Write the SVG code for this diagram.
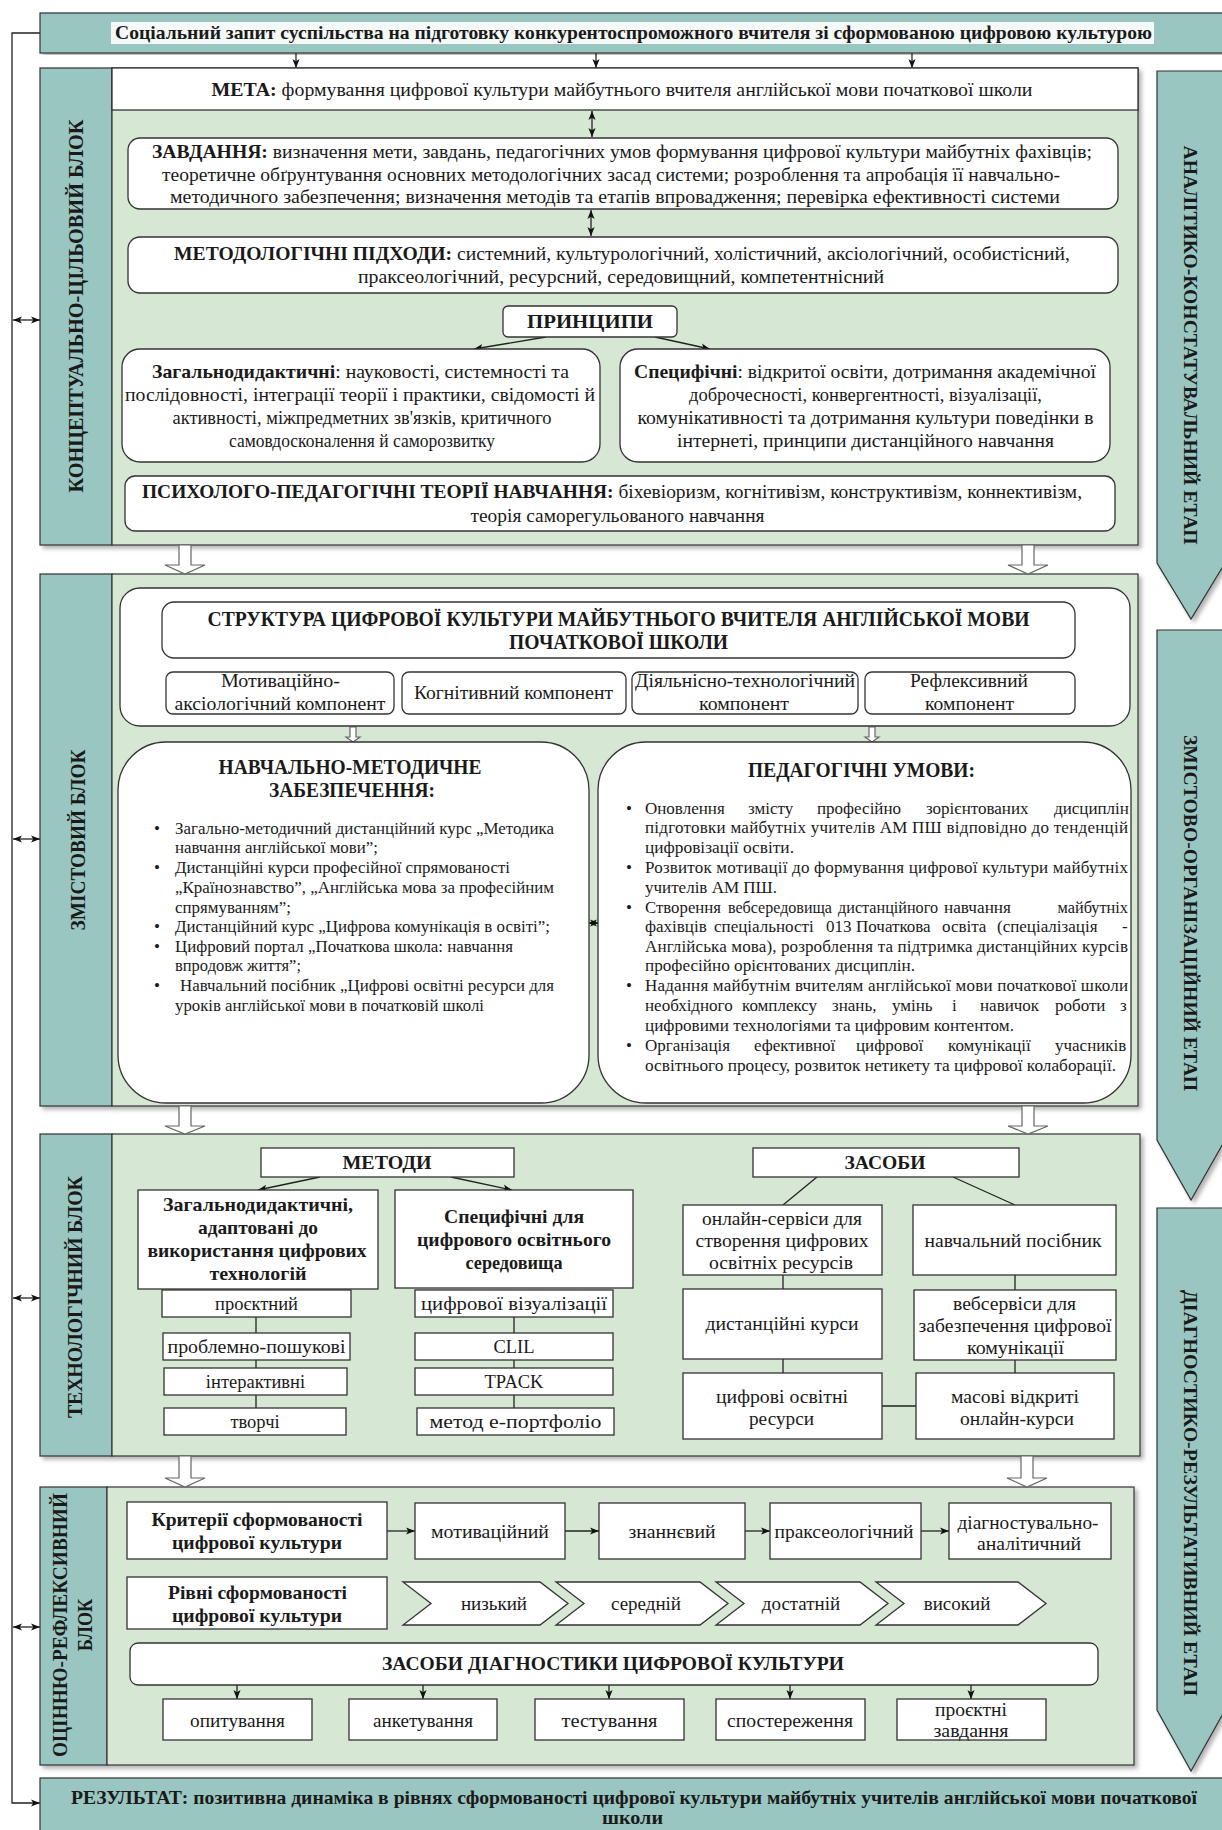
<svg xmlns="http://www.w3.org/2000/svg" width="1222" height="1830" viewBox="0 0 1222 1830">
<defs>
<style>
.t{font-family:"Liberation Serif","Times New Roman",serif;font-size:19px;fill:#1a1a1a}
.b{font-weight:bold}
.s{font-size:17px}
.m{font-size:18.5px}
.c{text-anchor:middle}
.teal{fill:#99c6c0;stroke:#333;stroke-width:1.2}
.green{fill:#d6e8d4;stroke:#333;stroke-width:1.2}
.box{fill:#fff;stroke:#333;stroke-width:1.3}
.ln{fill:none;stroke:#222;stroke-width:1.3}
.hol{fill:#fff;stroke:#666;stroke-width:1.2}
</style>
<marker id="a" viewBox="0 0 10 10" refX="10" refY="5" markerWidth="9" markerHeight="9" markerUnits="userSpaceOnUse" orient="auto-start-reverse"><path d="M0,1 L10,5 L0,9 L2.5,5 z" fill="#111"/></marker>
<filter id="sh" x="-3%" y="-3%" width="106%" height="106%"><feDropShadow dx="3" dy="3" stdDeviation="2" flood-color="#000" flood-opacity="0.3"/></filter>
</defs>
<rect width="1222" height="1830" fill="#fff"/>

<!-- stage arrows -->
<g id="etap1">
<polygon points="1157,71 1225,71 1225,563 1191,619 1157,563" class="teal" filter="url(#sh)"/>
<text transform="translate(1190,345) rotate(90)" class="t b c" dominant-baseline="central" textLength="399" lengthAdjust="spacingAndGlyphs">АНАЛІТИКО-КОНСТАТУВАЛЬНИЙ ЕТАП</text>
</g>
<g id="etap2">
<polygon points="1157,630 1225,630 1225,1140 1191,1200 1157,1140" class="teal" filter="url(#sh)"/>
<text transform="translate(1190,913) rotate(90)" class="t b c" dominant-baseline="central" textLength="356" lengthAdjust="spacingAndGlyphs">ЗМІСТОВО-ОРГАНІЗАЦІЙНИЙ ЕТАП</text>
</g>
<g id="etap3">
<polygon points="1157,1208 1225,1208 1225,1710 1191,1771 1157,1710" class="teal" filter="url(#sh)"/>
<text transform="translate(1190,1493) rotate(90)" class="t b c" dominant-baseline="central" textLength="406" lengthAdjust="spacingAndGlyphs">ДІАГНОСТИКО-РЕЗУЛЬТАТИВНИЙ ЕТАП</text>
</g>

<!-- block backgrounds -->
<g id="block1">
<g filter="url(#sh)">
<rect x="40" y="68" width="72" height="477" class="teal"/>
<rect x="112" y="68" width="1026" height="477" class="green"/>
</g>
<text transform="translate(76,306) rotate(-90)" class="t b c" style="font-size:20px" dominant-baseline="central" textLength="373" lengthAdjust="spacingAndGlyphs">КОНЦЕПТУАЛЬНО-ЦІЛЬОВИЙ БЛОК</text>
</g>
<g id="block2">
<g filter="url(#sh)">
<rect x="40" y="574" width="72" height="532" class="teal"/>
<rect x="112" y="574" width="1026" height="532" class="green"/>
</g>
<text transform="translate(78,840) rotate(-90)" class="t b c" style="font-size:20px" dominant-baseline="central" textLength="181" lengthAdjust="spacingAndGlyphs">ЗМІСТОВИЙ БЛОК</text>
</g>
<g id="block3">
<g filter="url(#sh)">
<rect x="40" y="1134" width="72" height="322" class="teal"/>
<rect x="112" y="1134" width="1028" height="322" class="green"/>
</g>
<text transform="translate(75,1297) rotate(-90)" class="t b c" style="font-size:20px" dominant-baseline="central" textLength="242" lengthAdjust="spacing">ТЕХНОЛОГІЧНИЙ БЛОК</text>
</g>
<g id="block4">
<g filter="url(#sh)">
<rect x="40" y="1487" width="67" height="278" class="teal"/>
<rect x="107" y="1487" width="1027" height="278" class="green"/>
</g>
<text transform="translate(60,1625) rotate(-90)" class="t b c" style="font-size:20px" dominant-baseline="central" textLength="264" lengthAdjust="spacingAndGlyphs">ОЦІННЮ-РЕФЛЕКСИВНИЙ</text>
<text transform="translate(85,1625) rotate(-90)" class="t b c" style="font-size:20px" dominant-baseline="central" textLength="52" lengthAdjust="spacingAndGlyphs">БЛОК</text>
</g>

<!-- connectors -->
<g id="connectors">
<line x1="296" y1="53" x2="296" y2="68" class="ln" marker-end="url(#a)"/>
<line x1="596" y1="53" x2="596" y2="68" class="ln" marker-end="url(#a)"/>
<line x1="912" y1="53" x2="912" y2="68" class="ln" marker-end="url(#a)"/>
<path d="M40,33 H12 V1803 H40" class="ln" marker-end="url(#a)"/>
<line x1="13" y1="320" x2="40" y2="320" class="ln" marker-start="url(#a)" marker-end="url(#a)"/>
<line x1="13" y1="839" x2="40" y2="839" class="ln" marker-start="url(#a)" marker-end="url(#a)"/>
<line x1="13" y1="1298" x2="40" y2="1298" class="ln" marker-start="url(#a)" marker-end="url(#a)"/>
<line x1="13" y1="1627" x2="40" y2="1627" class="ln" marker-start="url(#a)" marker-end="url(#a)"/>
<line x1="592" y1="111" x2="592" y2="137" class="ln" marker-start="url(#a)" marker-end="url(#a)"/>
<line x1="591" y1="210" x2="591" y2="236" class="ln" marker-start="url(#a)" marker-end="url(#a)"/>
<line x1="546" y1="337" x2="474" y2="349" class="ln" marker-end="url(#a)"/>
<line x1="655" y1="337" x2="710" y2="349" class="ln" marker-end="url(#a)"/>
<polygon points="179,545 191,545 191,565 205,565 185,574 165,565 179,565" class="hol"/>
<polygon points="1022,545 1034,545 1034,565 1048,565 1028,574 1008,565 1022,565" class="hol"/>
<polygon points="179,1106 191,1106 191,1126 205,1126 185,1134 165,1126 179,1126" class="hol"/>
<polygon points="1022,1106 1034,1106 1034,1126 1048,1126 1028,1134 1008,1126 1022,1126" class="hol"/>
<polygon points="179,1456 191,1456 191,1478 205,1478 185,1487 165,1478 179,1478" class="hol"/>
<polygon points="1021,1456 1033,1456 1033,1478 1047,1478 1027,1487 1007,1478 1021,1478" class="hol"/>
<line x1="280" y1="658" x2="280" y2="672" class="ln" marker-end="url(#a)"/>
<line x1="514" y1="658" x2="514" y2="672" class="ln" marker-end="url(#a)"/>
<line x1="746" y1="658" x2="746" y2="672" class="ln" marker-end="url(#a)"/>
<line x1="971" y1="658" x2="971" y2="672" class="ln" marker-end="url(#a)"/>
<polygon points="350,727 356,727 356,737 360,737 353,742 346,737 350,737" class="hol"/>
<polygon points="869,727 875,727 875,737 879,737 872,742 865,737 869,737" class="hol"/>
<line x1="588" y1="923" x2="599" y2="923" class="ln" marker-start="url(#a)" marker-end="url(#a)"/>
<line x1="320" y1="1177" x2="258" y2="1190" class="ln" marker-end="url(#a)"/>
<line x1="451" y1="1177" x2="512" y2="1190" class="ln" marker-end="url(#a)"/>
<line x1="256" y1="1317" x2="256" y2="1408" class="ln"/>
<line x1="514" y1="1317" x2="514" y2="1408" class="ln"/>
<line x1="817" y1="1177" x2="783" y2="1205" class="ln"/>
<line x1="953" y1="1177" x2="1015" y2="1205" class="ln"/>
<line x1="783" y1="1275" x2="783" y2="1289" class="ln"/>
<line x1="783" y1="1359" x2="783" y2="1373" class="ln"/>
<line x1="1015" y1="1275" x2="1015" y2="1290" class="ln"/>
<line x1="1015" y1="1360" x2="1015" y2="1373" class="ln"/>
<line x1="882" y1="1406" x2="916" y2="1406" class="ln"/>
<line x1="387" y1="1531" x2="415" y2="1531" class="ln" marker-end="url(#a)"/>
<line x1="565" y1="1531" x2="599" y2="1531" class="ln" marker-end="url(#a)"/>
<line x1="745" y1="1531" x2="770" y2="1531" class="ln" marker-end="url(#a)"/>
<line x1="921" y1="1531" x2="949" y2="1531" class="ln" marker-end="url(#a)"/>
<line x1="237" y1="1685" x2="237" y2="1699" class="ln" marker-end="url(#a)"/>
<line x1="423" y1="1685" x2="423" y2="1699" class="ln" marker-end="url(#a)"/>
<line x1="609" y1="1685" x2="609" y2="1699" class="ln" marker-end="url(#a)"/>
<line x1="790" y1="1685" x2="790" y2="1699" class="ln" marker-end="url(#a)"/>
<line x1="971" y1="1685" x2="971" y2="1699" class="ln" marker-end="url(#a)"/>
</g>

<!-- top bar -->
<g id="zapyt">
<rect x="40" y="13" width="1190" height="40" class="teal" filter="url(#sh)"/>
<rect x="111" y="22" width="1043" height="22" fill="#f4f8f7"/>
<text x="633.5" y="39" class="t b c" textLength="1037" lengthAdjust="spacingAndGlyphs">Соціальний запит суспільства на підготовку конкурентоспроможного вчителя зі сформованою цифровою культурою</text>
</g>

<!-- BLOCK 1 nodes -->
<g id="meta">
<rect x="112" y="68" width="1026" height="42" class="box"/>
<text x="622" y="96" class="t c" textLength="821" lengthAdjust="spacingAndGlyphs"><tspan class="b">МЕТА:</tspan> формування цифрової культури майбутнього вчителя англійської мови початкової школи</text>
</g>
<g id="zavdannia">
<rect x="128" y="138" width="990" height="71" rx="12" class="box"/>
<text x="622" y="158" class="t c" textLength="940" lengthAdjust="spacingAndGlyphs"><tspan class="b">ЗАВДАННЯ:</tspan> визначення мети, завдань, педагогічних умов формування цифрової культури майбутніх фахівців;</text>
<text x="611" y="180.5" class="t c" textLength="898" lengthAdjust="spacingAndGlyphs">теоретичне обґрунтування основних методологічних засад системи; розроблення та апробація її навчально-</text>
<text x="615" y="203" class="t c" textLength="890" lengthAdjust="spacingAndGlyphs">методичного забезпечення; визначення методів та етапів впровадження; перевірка ефективності системи</text>
</g>
<g id="pidkhody">
<rect x="128" y="237" width="990" height="56" rx="12" class="box"/>
<text x="622" y="259.5" class="t c" textLength="896" lengthAdjust="spacingAndGlyphs"><tspan class="b">МЕТОДОЛОГІЧНІ ПІДХОДИ:</tspan> системний, культурологічний, холістичний, аксіологічний, особистісний,</text>
<text x="621" y="283" class="t c" textLength="526" lengthAdjust="spacingAndGlyphs">праксеологічний, ресурсний, середовищний, компетентнісний</text>
</g>
<g id="pryntsypy">
<rect x="503" y="306" width="174" height="31" rx="5" class="box"/>
<text x="590" y="328" class="t b c" textLength="126" lengthAdjust="spacingAndGlyphs">ПРИНЦИПИ</text>
</g>
<g id="zagalnodydaktychni">
<rect x="122" y="349" width="478" height="113" rx="18" class="box"/>
<text x="360.5" y="378" class="t c" textLength="417" lengthAdjust="spacingAndGlyphs"><tspan class="b">Загальнодидактичні</tspan>: науковості, системності та</text>
<text x="360" y="401" class="t c" textLength="470" lengthAdjust="spacingAndGlyphs">послідовності, інтеграції теорії і практики, свідомості й</text>
<text x="362" y="424" class="t c" textLength="379" lengthAdjust="spacingAndGlyphs">активності, міжпредметних зв'язків, критичного</text>
<text x="362" y="447" class="t c" textLength="266" lengthAdjust="spacingAndGlyphs">самовдосконалення й саморозвитку</text>
</g>
<g id="spetsyfichni">
<rect x="620" y="349" width="490" height="113" rx="18" class="box"/>
<text x="865" y="378" class="t c" textLength="462" lengthAdjust="spacingAndGlyphs"><tspan class="b">Специфічні</tspan>: відкритої освіти, дотримання академічної</text>
<text x="865.5" y="401" class="t c" textLength="353" lengthAdjust="spacingAndGlyphs">доброчесності, конвергентності, візуалізації,</text>
<text x="865.5" y="424" class="t c" textLength="456" lengthAdjust="spacingAndGlyphs">комунікативності та дотримання культури поведінки в</text>
<text x="865.5" y="447" class="t c" textLength="377" lengthAdjust="spacingAndGlyphs">інтернеті, принципи дистанційного навчання</text>
</g>
<g id="teorii">
<rect x="125" y="476" width="990" height="55" rx="10" class="box"/>
<text x="612" y="497.5" class="t c" textLength="940" lengthAdjust="spacingAndGlyphs"><tspan class="b">ПСИХОЛОГО-ПЕДАГОГІЧНІ ТЕОРІЇ НАВЧАННЯ:</tspan> біхевіоризм, когнітивізм, конструктивізм, коннективізм,</text>
<text x="617.5" y="521.5" class="t c" textLength="294" lengthAdjust="spacingAndGlyphs">теорія саморегульованого навчання</text>
</g>

<!-- BLOCK 2 nodes -->
<g id="struktura">
<rect x="120" y="588" width="1010" height="138" rx="20" class="box"/>
<rect x="162" y="602" width="913" height="56" rx="12" class="box"/>
<text x="618.5" y="626" class="t b c" style="font-size:20px" textLength="822" lengthAdjust="spacingAndGlyphs">СТРУКТУРА ЦИФРОВОЇ КУЛЬТУРИ МАЙБУТНЬОГО ВЧИТЕЛЯ АНГЛІЙСЬКОЇ МОВИ</text>
<text x="618.5" y="649" class="t b c" style="font-size:20px" textLength="219" lengthAdjust="spacingAndGlyphs">ПОЧАТКОВОЇ ШКОЛИ</text>
</g>
<g id="komp1">
<rect x="166" y="672" width="228" height="42" rx="7" class="box"/>
<text x="280.5" y="687" class="t m c" textLength="119" lengthAdjust="spacingAndGlyphs">Мотиваційно-</text>
<text x="280" y="710" class="t m c" textLength="211" lengthAdjust="spacingAndGlyphs">аксіологічний компонент</text>
</g>
<g id="komp2">
<rect x="402" y="672" width="224" height="42" rx="7" class="box"/>
<text x="513.5" y="699" class="t m c" textLength="199" lengthAdjust="spacingAndGlyphs">Когнітивний компонент</text>
</g>
<g id="komp3">
<rect x="632" y="672" width="226" height="42" rx="7" class="box"/>
<text x="745" y="687" class="t m c" textLength="220" lengthAdjust="spacingAndGlyphs">Діяльнісно-технологічний</text>
<text x="744" y="710" class="t m c" textLength="90" lengthAdjust="spacingAndGlyphs">компонент</text>
</g>
<g id="komp4">
<rect x="865" y="672" width="210" height="42" rx="7" class="box"/>
<text x="969" y="687" class="t m c" textLength="118" lengthAdjust="spacingAndGlyphs">Рефлексивний</text>
<text x="969.5" y="710" class="t m c" textLength="89" lengthAdjust="spacingAndGlyphs">компонент</text>
</g>
<g id="zabezpechennia">
<rect x="118" y="742" width="471" height="361" rx="48" class="box"/>
<text x="350" y="774" class="t b c" style="font-size:20px" textLength="263" lengthAdjust="spacingAndGlyphs">НАВЧАЛЬНО-МЕТОДИЧНЕ</text>
<text x="352" y="797" class="t b c" style="font-size:20px" textLength="166" lengthAdjust="spacingAndGlyphs">ЗАБЕЗПЕЧЕННЯ:</text>
<g class="t s">
<text x="157" y="833.5" class="c">•</text>
<text x="157" y="873" class="c">•</text>
<text x="157" y="932" class="c">•</text>
<text x="157" y="951.5" class="c">•</text>
<text x="157" y="991" class="c">•</text>
<text x="175" y="833.5" textLength="379" lengthAdjust="spacingAndGlyphs">Загально-методичний дистанційний курс „Методика</text>
<text x="175" y="853" textLength="203" lengthAdjust="spacingAndGlyphs">навчання англійської мови”;</text>
<text x="175" y="873" textLength="335" lengthAdjust="spacingAndGlyphs">Дистанційні курси професійної спрямованості</text>
<text x="175" y="893" textLength="379" lengthAdjust="spacingAndGlyphs">„Країнознавство”, „Англійська мова за професійним</text>
<text x="175" y="912.5" textLength="116" lengthAdjust="spacingAndGlyphs">спрямуванням”;</text>
<text x="175" y="932" textLength="375" lengthAdjust="spacingAndGlyphs">Дистанційний курс „Цифрова комунікація в освіті”;</text>
<text x="175" y="951.5" textLength="338" lengthAdjust="spacingAndGlyphs">Цифровий портал „Початкова школа: навчання</text>
<text x="175" y="971" textLength="126" lengthAdjust="spacingAndGlyphs">впродовж життя”;</text>
<text x="180" y="991" textLength="374" lengthAdjust="spacingAndGlyphs">Навчальний посібник „Цифрові освітні ресурси для</text>
<text x="175" y="1011" textLength="309" lengthAdjust="spacingAndGlyphs">уроків англійської мови в початковій школі</text>
</g>
</g>
<g id="umovy">
<rect x="598" y="742" width="533" height="361" rx="48" class="box"/>
<text x="861.5" y="777" class="t b c" style="font-size:20px" textLength="227" lengthAdjust="spacingAndGlyphs">ПЕДАГОГІЧНІ УМОВИ:</text>
<g class="t s">
<text x="629" y="813.5" class="c">•</text>
<text x="629" y="873" class="c">•</text>
<text x="629" y="913" class="c">•</text>
<text x="629" y="991" class="c">•</text>
<text x="629" y="1050.5" class="c">•</text>
<text y="813.5"><tspan x="645">Оновлення</tspan><tspan x="748">змісту</tspan><tspan x="817">професійно</tspan><tspan x="926">зорієнтованих</tspan><tspan x="1054">дисциплін</tspan></text>
<text x="645" y="832.5" textLength="483" lengthAdjust="spacing">підготовки майбутніх учителів АМ ПШ відповідно до тенденцій</text>
<text x="645" y="853" textLength="149" lengthAdjust="spacingAndGlyphs">цифровізації освіти.</text>
<text x="645" y="873" textLength="483" lengthAdjust="spacing">Розвиток мотивації до формування цифрової культури майбутніх</text>
<text x="645" y="893" textLength="132" lengthAdjust="spacingAndGlyphs">учителів АМ ПШ.</text>
<text x="645" y="913" textLength="76" lengthAdjust="spacingAndGlyphs">Створення</text>
<text x="728" y="913" textLength="104" lengthAdjust="spacingAndGlyphs">вебсередовища</text>
<text x="838" y="913" textLength="100" lengthAdjust="spacingAndGlyphs">дистанційного</text>
<text x="944" y="913" textLength="67" lengthAdjust="spacingAndGlyphs">навчання</text>
<text x="1057.5" y="913" textLength="70.5" lengthAdjust="spacingAndGlyphs">майбутніх</text>
<text y="932"><tspan x="645">фахівців</tspan><tspan x="714">спеціальності</tspan><tspan x="826">013</tspan><tspan x="856">Початкова</tspan><tspan x="942">освіта</tspan><tspan x="997">(спеціалізація</tspan><tspan x="1122">-</tspan></text>
<text x="645" y="951.5" textLength="483" lengthAdjust="spacing">Англійська мова), розроблення та підтримка дистанційних курсів</text>
<text x="645" y="971" textLength="270" lengthAdjust="spacingAndGlyphs">професійно орієнтованих дисциплін.</text>
<text x="645" y="991" textLength="483" lengthAdjust="spacing">Надання майбутнім вчителям англійської мови початкової школи</text>
<text y="1011"><tspan x="645">необхідного</tspan><tspan x="742">комплексу</tspan><tspan x="832">знань,</tspan><tspan x="892">умінь</tspan><tspan x="952">і</tspan><tspan x="980">навичок</tspan><tspan x="1055">роботи</tspan><tspan x="1120">з</tspan></text>
<text x="645" y="1031" textLength="369" lengthAdjust="spacingAndGlyphs">цифровими технологіями та цифровим контентом.</text>
<text y="1050.5"><tspan x="645">Організація</tspan><tspan x="754">ефективної</tspan><tspan x="856">цифрової</tspan><tspan x="948">комунікації</tspan><tspan x="1055">учасників</tspan></text>
<text x="645" y="1070.5" textLength="471" lengthAdjust="spacingAndGlyphs">освітнього процесу, розвиток нетикету та цифрової колаборації.</text>
</g>
</g>

<!-- BLOCK 3 nodes -->
<g id="metody">
<rect x="261" y="1148" width="253" height="29" class="box"/>
<text x="387" y="1169" class="t b c" textLength="89" lengthAdjust="spacingAndGlyphs">МЕТОДИ</text>
</g>
<g id="m-zagal">
<rect x="138" y="1190" width="240" height="99" class="box"/>
<text x="258" y="1211" class="t b c" textLength="190" lengthAdjust="spacingAndGlyphs">Загальнодидактичні,</text>
<text x="258" y="1234" class="t b c" textLength="120" lengthAdjust="spacingAndGlyphs">адаптовані до</text>
<text x="257" y="1257" class="t b c" textLength="219" lengthAdjust="spacingAndGlyphs">використання цифрових</text>
<text x="258" y="1280" class="t b c" textLength="97" lengthAdjust="spacingAndGlyphs">технологій</text>
</g>
<g id="m-spets">
<rect x="395" y="1190" width="238" height="98" class="box"/>
<text x="514" y="1222.5" class="t b c" textLength="140" lengthAdjust="spacingAndGlyphs">Специфічні для</text>
<text x="514" y="1245.5" class="t b c" textLength="194" lengthAdjust="spacingAndGlyphs">цифрового освітнього</text>
<text x="514" y="1268.5" class="t b c" textLength="97" lengthAdjust="spacingAndGlyphs">середовища</text>
</g>
<g id="m-proektnyi"><rect x="162" y="1290" width="189" height="27" class="box"/><text x="256.5" y="1310" class="t m c">проєктний</text></g>
<g id="m-problemno"><rect x="163" y="1333" width="187" height="27" class="box"/><text x="256.5" y="1353" class="t m c" textLength="178" lengthAdjust="spacingAndGlyphs">проблемно-пошукові</text></g>
<g id="m-interaktyvni"><rect x="164" y="1368" width="183" height="27" class="box"/><text x="255.5" y="1388" class="t m c">інтерактивні</text></g>
<g id="m-tvorchi"><rect x="164" y="1408" width="182" height="27" class="box"/><text x="255" y="1428" class="t m c">творчі</text></g>
<g id="m-vizual"><rect x="415" y="1290" width="198" height="27" class="box"/><text x="514" y="1310" class="t m c" textLength="186" lengthAdjust="spacingAndGlyphs">цифрової візуалізації</text></g>
<g id="m-clil"><rect x="415" y="1333" width="198" height="27" class="box"/><text x="514" y="1353" class="t m c">CLIL</text></g>
<g id="m-tpack"><rect x="415" y="1368" width="198" height="27" class="box"/><text x="514" y="1388" class="t m c">TPACK</text></g>
<g id="m-portfolio"><rect x="417" y="1408" width="197" height="27" class="box"/><text x="515.5" y="1428" class="t m c" textLength="172" lengthAdjust="spacingAndGlyphs">метод е-портфоліо</text></g>
<g id="zasoby">
<rect x="753" y="1148" width="266" height="29" class="box"/>
<text x="885" y="1169" class="t b c" textLength="81" lengthAdjust="spacingAndGlyphs">ЗАСОБИ</text>
</g>
<g id="z-onlain">
<rect x="683" y="1205" width="199" height="70" class="box"/>
<text x="782" y="1224.5" class="t c" textLength="160" lengthAdjust="spacingAndGlyphs">онлайн-сервіси для</text>
<text x="782" y="1246.5" class="t c" textLength="173" lengthAdjust="spacingAndGlyphs">створення цифрових</text>
<text x="781" y="1268.5" class="t c" textLength="144" lengthAdjust="spacingAndGlyphs">освітніх ресурсів</text>
</g>
<g id="z-posibnyk">
<rect x="913" y="1205" width="203" height="70" class="box"/>
<text x="1013" y="1246.5" class="t c" textLength="177" lengthAdjust="spacingAndGlyphs">навчальний посібник</text>
</g>
<g id="z-dystkursy">
<rect x="683" y="1289" width="199" height="70" class="box"/>
<text x="782" y="1330" class="t c" textLength="153" lengthAdjust="spacingAndGlyphs">дистанційні курси</text>
</g>
<g id="z-vebservisy">
<rect x="914" y="1290" width="202" height="70" class="box"/>
<text x="1014.5" y="1309.5" class="t c" textLength="123" lengthAdjust="spacingAndGlyphs">вебсервіси для</text>
<text x="1015" y="1332" class="t c" textLength="193" lengthAdjust="spacingAndGlyphs">забезпечення цифрової</text>
<text x="1015.5" y="1354" class="t c" textLength="97" lengthAdjust="spacingAndGlyphs">комунікації</text>
</g>
<g id="z-tsor">
<rect x="683" y="1373" width="199" height="66" class="box"/>
<text x="782" y="1402.5" class="t c" textLength="132" lengthAdjust="spacingAndGlyphs">цифрові освітні</text>
<text x="781.5" y="1424.5" class="t c" textLength="65" lengthAdjust="spacingAndGlyphs">ресурси</text>
</g>
<g id="z-mooc">
<rect x="916" y="1373" width="198" height="66" class="box"/>
<text x="1015" y="1402.5" class="t c" textLength="128" lengthAdjust="spacingAndGlyphs">масові відкриті</text>
<text x="1017" y="1424.5" class="t c" textLength="114" lengthAdjust="spacingAndGlyphs">онлайн-курси</text>
</g>

<!-- BLOCK 4 nodes -->
<g id="kryterii">
<rect x="127" y="1502" width="260" height="57" class="box"/>
<text x="257" y="1525.5" class="t b c" textLength="211" lengthAdjust="spacingAndGlyphs">Критерії сформованості</text>
<text x="257" y="1548.5" class="t b c" textLength="170" lengthAdjust="spacingAndGlyphs">цифрової культури</text>
</g>
<g id="k-motyv"><rect x="415" y="1503" width="150" height="56" class="box"/><text x="490" y="1538" class="t c" textLength="118" lengthAdjust="spacingAndGlyphs">мотиваційний</text></g>
<g id="k-znan"><rect x="599" y="1503" width="146" height="56" class="box"/><text x="672" y="1538" class="t c" textLength="87" lengthAdjust="spacingAndGlyphs">знаннєвий</text></g>
<g id="k-prakse"><rect x="770" y="1503" width="151" height="56" class="box"/><text x="844" y="1538" class="t c" textLength="139" lengthAdjust="spacingAndGlyphs">праксеологічний</text></g>
<g id="k-diagn">
<rect x="949" y="1503" width="162" height="56" class="box"/>
<text x="1028" y="1528.5" class="t c" textLength="141" lengthAdjust="spacingAndGlyphs">діагностувально-</text>
<text x="1029" y="1550" class="t c" textLength="104" lengthAdjust="spacingAndGlyphs">аналітичний</text>
</g>
<g id="rivni">
<rect x="127" y="1577" width="260" height="52" class="box"/>
<text x="257.5" y="1598.5" class="t b c" textLength="179" lengthAdjust="spacingAndGlyphs">Рівні сформованості</text>
<text x="257" y="1621.5" class="t b c" textLength="170" lengthAdjust="spacingAndGlyphs">цифрової культури</text>
</g>
<g id="r-nyzkyi"><polygon points="403,1582 540,1582 568,1603.5 540,1625 403,1625 431,1603.5" class="box"/><text x="494" y="1610" class="t c">низький</text></g>
<g id="r-serednii"><polygon points="556,1582 700,1582 728,1603.5 700,1625 556,1625 584,1603.5" class="box"/><text x="646" y="1610" class="t c">середній</text></g>
<g id="r-dostatnii"><polygon points="716,1582 860,1582 888,1603.5 860,1625 716,1625 744,1603.5" class="box"/><text x="801" y="1610" class="t c">достатній</text></g>
<g id="r-vysokyi"><polygon points="876,1582 1018,1582 1046,1603.5 1018,1625 876,1625 904,1603.5" class="box"/><text x="957" y="1610" class="t c">високий</text></g>
<g id="diagnostyka">
<rect x="130" y="1643" width="968" height="42" rx="8" class="box"/>
<text x="613" y="1670" class="t b c" textLength="462" lengthAdjust="spacingAndGlyphs">ЗАСОБИ ДІАГНОСТИКИ ЦИФРОВОЇ КУЛЬТУРИ</text>
</g>
<g id="d-opyt"><rect x="163" y="1699" width="149" height="41" class="box"/><text x="237.5" y="1726.5" class="t c" textLength="95" lengthAdjust="spacingAndGlyphs">опитування</text></g>
<g id="d-anket"><rect x="349" y="1699" width="148" height="41" class="box"/><text x="423" y="1726.5" class="t c" textLength="100" lengthAdjust="spacingAndGlyphs">анкетування</text></g>
<g id="d-test"><rect x="535" y="1699" width="149" height="41" class="box"/><text x="609.5" y="1726.5" class="t c" textLength="96" lengthAdjust="spacingAndGlyphs">тестування</text></g>
<g id="d-sposter"><rect x="716" y="1699" width="149" height="41" class="box"/><text x="790" y="1726.5" class="t c" textLength="126" lengthAdjust="spacingAndGlyphs">спостереження</text></g>
<g id="d-proekt"><rect x="897" y="1699" width="149" height="41" class="box"/><text x="971" y="1716" class="t c" textLength="72" lengthAdjust="spacingAndGlyphs">проєктні</text><text x="971" y="1737" class="t c" textLength="75" lengthAdjust="spacingAndGlyphs">завдання</text></g>

<!-- result -->
<g id="rezultat">
<rect x="40" y="1778" width="1190" height="60" class="teal" filter="url(#sh)"/>
<text x="634" y="1803.5" class="t b c" textLength="1126" lengthAdjust="spacingAndGlyphs">РЕЗУЛЬТАТ: позитивна динаміка в рівнях сформованості цифрової культури майбутніх учителів англійської мови початкової</text>
<text x="632.5" y="1824" class="t b c" textLength="61" lengthAdjust="spacingAndGlyphs">школи</text>
</g>
</svg>
